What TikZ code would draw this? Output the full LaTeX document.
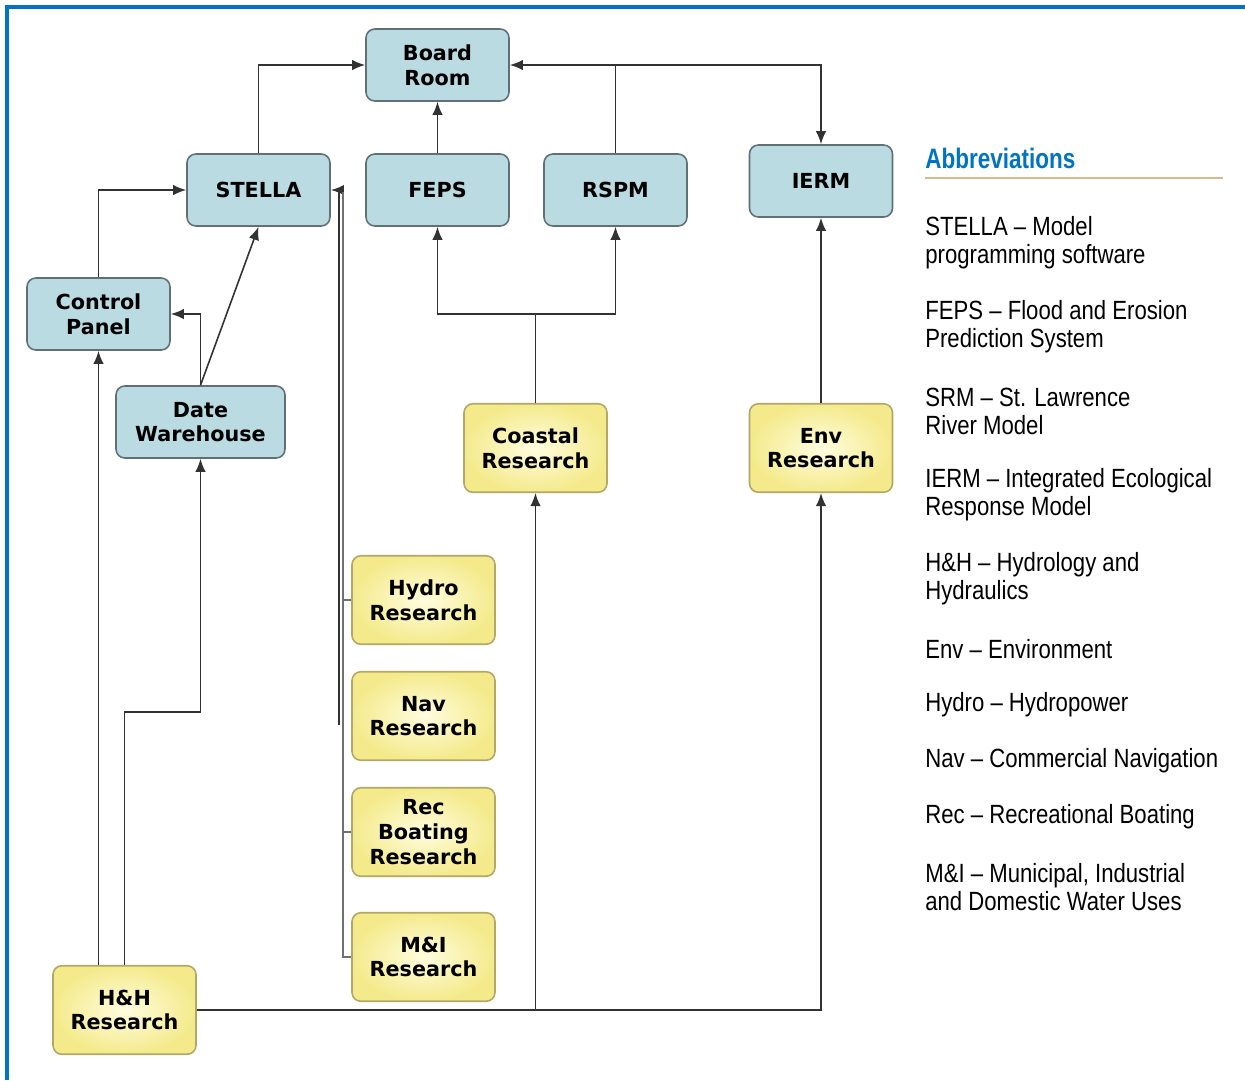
\documentclass[tikz,border=0pt]{standalone}
\usepackage{fontspec}
\setmainfont{DejaVu Sans}
\newfontfamily\legendfont[FakeStretch=0.84]{Liberation Sans}
\newfontfamily\legendhead[FakeStretch=0.8]{Liberation Sans}
\usepackage{tikz}
\usetikzlibrary{arrows.meta,positioning}

\definecolor{modelblue}{RGB}{186,219,225}
\definecolor{modeledge}{RGB}{96,112,116}
\definecolor{resyellow}{RGB}{244,234,140}
\definecolor{reslight}{RGB}{255,253,222}
\definecolor{resedge}{RGB}{176,168,100}
\definecolor{framblue}{RGB}{0,116,192}
\definecolor{ruletan}{RGB}{217,186,138}
\definecolor{linegray}{RGB}{50,50,50}

\begin{document}
\begin{tikzpicture}[
  x=0.02cm, y=-0.02cm,
  box/.style={draw=modeledge, line width=0.9pt, rounded corners=5pt, align=center,
    font=\fontsize{11.8}{14}\selectfont\bfseries, minimum width=2.86cm, minimum height=1.44cm,
    inner sep=0pt},
  model/.style={box, fill=modelblue},
  research/.style={box, draw=resedge, shading=radial, inner color=reslight, outer color=resyellow,
    minimum height=1.77cm},
  arr/.style={-{Latex[length=7.5pt,width=6pt]}, draw=linegray, line width=0.9pt},
  bus/.style={draw=linegray!70, line width=0.6pt},
  abbr/.style={anchor=west, align=left, inner sep=0pt, font=\legendfont\fontsize{15}{15.9}\selectfont}
]
\useasboundingbox (0,0) rectangle (1245,1080);

% frame
\draw[framblue, line width=1.8pt] (7,1080) -- (7,7) -- (1245,7);

% model boxes
\node[model] (board) at (437.5,65) {Board\\Room};
\node[model] (stella) at (258.5,190) {STELLA};
\node[model] (feps) at (437.5,190) {FEPS};
\node[model] (rspm) at (615.5,190) {RSPM};
\node[model] (ierm) at (821,181) {IERM};
\node[model] (panel) at (98.5,314) {Control\\Panel};
\node[model, minimum width=3.38cm] (dwh) at (200.5,422) {Date\\Warehouse};

% research boxes
\node[research] (coastal) at (535.5,448) {Coastal\\Research};
\node[research] (env) at (821,448) {Env\\Research};
\node[research] (hydro) at (423.5,600) {Hydro\\Research};
\node[research] (nav) at (423.5,716) {Nav\\Research};
\node[research] (rec) at (423.5,832) {Rec\\Boating\\Research};
\node[research] (mi) at (423.5,957) {M\&I\\Research};
\node[research] (hh) at (124.5,1010) {H\&H\\Research};

% connectors
\draw[arr] (stella.north) |- (board.west);
\draw[arr] (feps) -- (board);
\draw[arr] (rspm.north) |- (board.east);
\draw[arr] (rspm.north |- board.east) -| (ierm.north);
\draw[arr] (panel.north) |- (stella.west);
\draw[arr] (dwh.north) -- (stella.south);
\draw[arr] (dwh.north) |- (panel.east);
\draw[arr] (hh.north -| panel.south) -- (panel.south);
\draw[arr] (hh.north) -- ++(0,-253) -| (dwh.south);
\draw[arr] (hh.east) -| (env.south);
\draw[arr] (hh.east -| coastal.south) -- (coastal.south);
\draw[arr] (coastal.north) -- ++(0,-89) -| (feps.south);
\draw[arr] (coastal.north) ++(0,-89) -| (rspm.south);
\draw[arr] (env.north) -- (ierm.south);

% research bus to STELLA
\coordinate (busfoot) at (339,725);
\coordinate (bustop) at (343,192);
\draw[arr, line width=1.2pt] (busfoot) |- (stella.east);
\draw[bus] (mi.west) -| (bustop);
\draw[bus] (hydro.west) -- (hydro.west -| bustop);
\draw[bus] (rec.west) -- (rec.west -| bustop);

% abbreviations
\node[anchor=west, inner sep=0pt, text=framblue, font=\legendhead\bfseries\fontsize{16}{18}\selectfont] (abtitle) at (925,158) {Abbreviations};
\draw[ruletan, line width=1.2pt] (925,178) -- (1223,178);
\node[abbr] (ab1) at (925,243) {STELLA – Model\\programming software};
\node[abbr] (ab2) at (925,327) {FEPS – Flood and Erosion\\Prediction System};
\node[abbr] (ab3) at (925,411) {SRM – St. Lawrence\\River Model};
\node[abbr] (ab4) at (925,495) {IERM – Integrated Ecological\\Response Model};
\node[abbr] (ab5) at (925,579) {H\&H – Hydrology and\\Hydraulics};
\node[abbr] (ab6) at (925,649) {Env – Environment};
\node[abbr] (ab7) at (925,705) {Hydro – Hydropower};
\node[abbr] (ab8) at (925,761) {Nav – Commercial Navigation};
\node[abbr] (ab9) at (925,817) {Rec – Recreational Boating};
\node[abbr] (ab10) at (925,887) {M\&I – Municipal, Industrial\\and Domestic Water Uses};
\end{tikzpicture}
\end{document}
